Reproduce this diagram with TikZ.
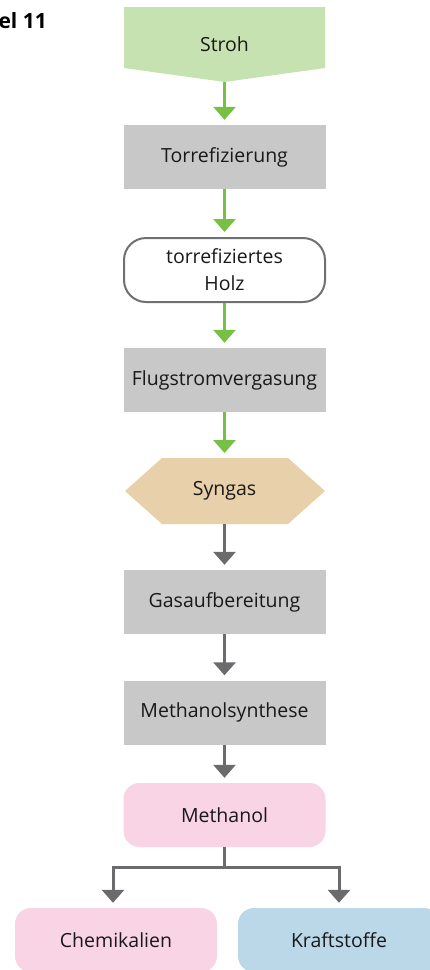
\documentclass[tikz,border=0pt]{standalone}
\usepackage{fontspec}
\setmainfont{Open Sans}
\usetikzlibrary{arrows.meta}
\definecolor{strohgreen}{HTML}{C6E2B1}
\definecolor{procgray}{HTML}{C8C8C9}
\definecolor{flowgreen}{HTML}{76C043}
\definecolor{flowgray}{HTML}{6B6B6E}
\definecolor{gastan}{HTML}{E8D0AA}
\definecolor{prodpink}{HTML}{F8D4E5}
\definecolor{prodblue}{HTML}{BAD8E8}
\definecolor{rimgray}{HTML}{707070}
\tikzset{
  lbl/.style={font=\fontsize{19.5}{27}\selectfont, align=center, text=black!90, inner sep=0pt},
  procbox/.style={lbl, fill=procgray, minimum width=202pt, minimum height=64pt},
  pillbox/.style={lbl, rounded corners=16pt, minimum width=202pt, minimum height=64pt},
  greenflow/.style={draw=flowgreen, line width=3pt, -{Triangle[width=22pt,length=13pt]}, shorten >=5pt},
  grayflow/.style={draw=flowgray, line width=3pt, -{Triangle[width=22pt,length=13pt]}, shorten >=5pt},
}
\begin{document}
\begin{tikzpicture}[x=1pt,y=-1pt]
\useasboundingbox (0,0) rectangle (430,970);
\clip (0,0) rectangle (430,970);

% chapter tag in the corner
\node[anchor=base east, inner sep=0pt, font=\fontsize{21}{24}\selectfont\bfseries] (tag) at (47,28) {el 11};

% input: straw (pentagon pointing down)
\fill[strohgreen] (124,7) -- (325,7) -- (325,68) -- (224.5,82) -- (124,68) -- cycle;
\node[lbl] (stroh) at (224.5,44) {Stroh};
\coordinate (strohtip) at (224.5,82);

\node[procbox] (torr) at (224.5,157) {Torrefizierung};
\node[pillbox, draw=rimgray, line width=2pt, fill=white, rounded corners=22pt, minimum width=201pt, minimum height=64pt] (holz) at (224.5,270) {torrefiziertes\\Holz};
\node[procbox] (flug) at (224.5,380) {Flugstromvergasung};

% syngas hexagon
\fill[gastan] (125,491) -- (162,458) -- (288,458) -- (325,491) -- (288,524) -- (162,524) -- cycle;
\node[lbl] (syngas) at (224.5,491) {Syngas};
\coordinate (syntop) at (224.5,458);
\coordinate (synbot) at (224.5,524);

\node[procbox] (gas) at (224.5,602) {Gasaufbereitung};
\node[procbox] (msyn) at (224.5,712.5) {Methanolsynthese};
\node[pillbox, fill=prodpink] (meth) at (224.5,815) {Methanol};

\node[pillbox, fill=prodpink] (chem) at (116,940) {Chemikalien};
\node[pillbox, fill=prodblue] (kraft) at (339,940) {Kraftstoffe};

% flow connectors
\draw[greenflow] (strohtip) -- (torr.north);
\draw[greenflow] (torr.south) -- (holz.north);
\draw[greenflow] (holz.south) -- (flug.north);
\draw[greenflow] (flug.south) -- (syntop);
\draw[grayflow] (synbot) -- (gas.north);
\draw[grayflow] (gas.south) -- (msyn.north);
\draw[grayflow] (msyn.south) -- (meth.north);

% branch to the two products
\coordinate (fork) at (224.5,867);
\coordinate (forkL) at (113,867);
\coordinate (forkR) at (339,867);
\draw[draw=flowgray, line width=3pt] (meth.south) -- (fork);
\draw[grayflow] (fork) -- (forkL) -- (forkL |- chem.north);
\draw[grayflow] (fork) -- (forkR) -- (forkR |- kraft.north);
\end{tikzpicture}
\end{document}
